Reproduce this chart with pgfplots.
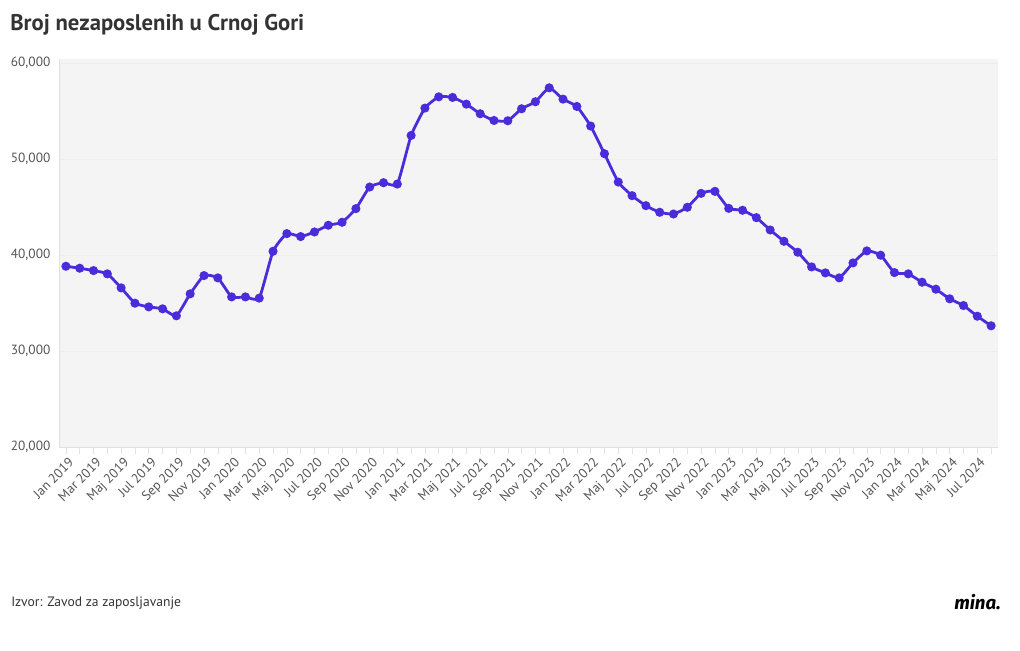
\documentclass[border=0pt]{standalone}
\usepackage{pgfplots}
\pgfplotsset{compat=1.18}
\usepackage{fontspec}
\setmainfont{PT Sans}
\newfontfamily\logofont{Fira Sans}
\definecolor{linec}{HTML}{4A2CDB}
\definecolor{bgc}{HTML}{F4F4F4}
\definecolor{txt}{HTML}{555555}
\definecolor{ttl}{HTML}{333333}
\begin{document}
\begin{tikzpicture}
\path[use as bounding box] (0pt,0pt) rectangle (765pt,-487.5pt);
\begin{axis}[
  at={(44.25pt,-335.25pt)}, anchor=south west,
  scale only axis, width=704.25pt, height=291pt,
  xmin=-0.5, xmax=67.5, ymin=20000, ymax=60400,
  axis background/.style={fill=bgc},
  axis line style={draw=black!12},
  axis x line*=bottom, axis y line*=left,
  xtick={0,2,...,66},
  minor xtick={1,3,...,67},
  xticklabels={Jan 2019,Mar 2019,Maj 2019,Jul 2019,Sep 2019,Nov 2019,Jan 2020,Mar 2020,Maj 2020,Jul 2020,Sep 2020,Nov 2020,Jan 2021,Mar 2021,Maj 2021,Jul 2021,Sep 2021,Nov 2021,Jan 2022,Mar 2022,Maj 2022,Jul 2022,Sep 2022,Nov 2022,Jan 2023,Mar 2023,Maj 2023,Jul 2023,Sep 2023,Nov 2023,Jan 2024,Mar 2024,Maj 2024,Jul 2024},
  x tick label style={rotate=45, anchor=north east, font=\fontsize{10}{10}\selectfont, text=txt, inner sep=0.5pt, yshift=-2pt},
  ytick={20000,30000,40000,50000,60000},
  y tick label style={font=\fontsize{10}{11}\selectfont, text=txt, xshift=2pt},
  /pgf/number format/assume math mode=true,
  /pgf/number format/.cd, 1000 sep={,}, fixed, precision=0, /pgfplots/.cd,
  scaled y ticks=false,
  tick align=outside,
  major tick length=5pt, minor tick length=5pt,
  every tick/.style={draw=black!12},
  xtick style={draw=black!12},
  ytick style={draw=none},
  ymajorgrids, grid style={draw=black!7, line width=0.5pt},
  clip=false,
]
\addplot[linec, line width=2.1pt, smooth, tension=0.3, mark=*, mark size=2.3pt, mark options={fill=linec, draw=linec}] coordinates {
(0,38820) (1,38615) (2,38370) (3,38030) (4,36570) (5,34975) (6,34590) (7,34390) (8,33660) (9,35950) (10,37850) (11,37610)
(12,35630) (13,35630) (14,35500) (15,40380) (16,42220) (17,41910) (18,42390) (19,43090) (20,43400) (21,44820) (22,47070) (23,47520)
(24,47380) (25,52440) (26,55290) (27,56460) (28,56400) (29,55700) (30,54700) (31,54000) (32,53970) (33,55220) (34,55950) (35,57400)
(36,56220) (37,55460) (38,53420) (39,50540) (40,47590) (41,46170) (42,45130) (43,44440) (44,44260) (45,44960) (46,46410) (47,46620)
(48,44850) (49,44650) (50,43880) (51,42600) (52,41420) (53,40280) (54,38750) (55,38130) (56,37610) (57,39170) (58,40420) (59,39970)
(60,38160) (61,38030) (62,37160) (63,36430) (64,35430) (65,34730) (66,33620) (67,32620)
};
\end{axis}
\node[anchor=west, font=\fontsize{17}{19}\selectfont\bfseries, text=ttl, inner sep=0pt] at (7.5pt,-18.75pt) {Broj nezaposlenih u Crnoj Gori};
\node[anchor=west, font=\fontsize{10.2}{11}\selectfont, text=ttl, inner sep=0pt] at (8.25pt,-452.25pt) {Izvor: Zavod za zaposljavanje};
\node[anchor=east, font=\logofont\fontsize{14}{15}\selectfont\bfseries\itshape, text=black, inner sep=0pt] at (750.75pt,-451.5pt) {mina.};
\end{tikzpicture}
\end{document}
